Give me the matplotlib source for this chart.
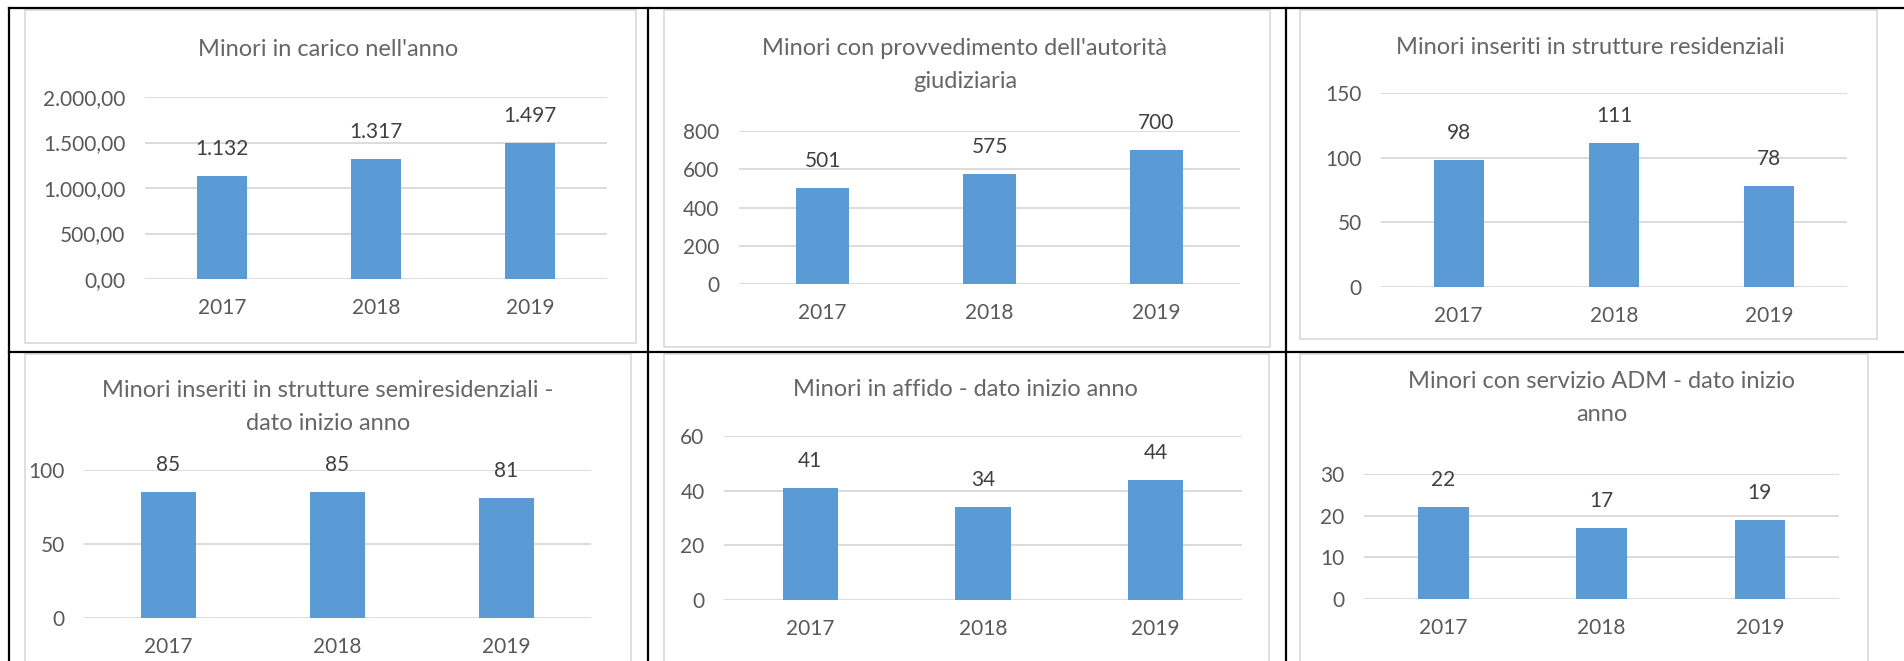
import matplotlib.pyplot as plt
from matplotlib.patches import Rectangle
from matplotlib.lines import Line2D

plt.rcParams['font.family'] = ['Lato', 'DejaVu Sans']

anni = ['2017', '2018', '2019']

carico = [1132, 1317, 1497]
provvedimento = [501, 575, 700]
residenziali = [98, 111, 78]
semiresidenziali = [85, 85, 81]
affido = [41, 34, 44]
adm = [22, 17, 19]

titoli = ["Minori in carico nell'anno",
          "Minori con provvedimento dell'autorità\ngiudiziaria",
          "Minori inseriti in strutture residenziali",
          "Minori inseriti in strutture semiresidenziali -\ndato inizio anno",
          "Minori in affido - dato inizio anno",
          "Minori con servizio ADM - dato inizio\nanno"]

yticks = [[0, 500, 1000, 1500, 2000],
          [0, 200, 400, 600, 800],
          [0, 50, 100, 150],
          [0, 50, 100],
          [0, 20, 40, 60],
          [0, 10, 20, 30]]

serie = [carico, provvedimento, residenziali, semiresidenziali, affido, adm]

W, H = 1904, 661
BLU = '#5B9BD5'
GRIGIO = '#595959'

# pixel layout: plot area (left, top, right, zero line), title centre, chart frame
aree = [(145, 97, 607, 279), (739, 131, 1240, 284), (1381, 93, 1847, 287),
        (84, 470, 591, 618), (724, 436, 1242, 600), (1364, 474, 1839, 599)]
centri_titolo = [(328, 49), (965, 65), (1590, 47), (328, 407), (965, 390), (1602, 398)]
cornici = [(25, 10, 636, 343), (664, 10, 1270, 347), (1300, 10, 1877, 339),
           (25, 354, 631, 700), (664, 354, 1269, 700), (1300, 354, 1868, 700)]


def it_num(v, dec=0):
    s = f"{v:,.{dec}f}"
    return s.replace(',', '#').replace('.', ',').replace('#', '.')


fig = plt.figure(figsize=(W / 100, H / 100), dpi=100)

for k in range(6):
    l, t, r, b = aree[k]
    ax = fig.add_axes([l / W, 1 - b / H, (r - l) / W, (b - t) / H])
    ax.patch.set_alpha(0)
    vals = serie[k]
    ax.bar(range(3), vals, width=0.32, color=BLU, zorder=2)
    ax.set_xlim(-0.5, 2.5)
    ax.set_ylim(0, yticks[k][-1])
    ax.set_yticks(yticks[k])
    if k == 0:
        ax.set_yticklabels([it_num(v, 2) for v in yticks[k]])
    ax.set_xticks(range(3), anni)
    ax.yaxis.grid(True, color='#D9D9D9', lw=1.3, zorder=0)
    ax.set_axisbelow(True)
    for s in ax.spines.values():
        s.set_visible(False)
    ax.tick_params(length=0, labelsize=15, colors=GRIGIO, pad=14)
    for i, v in enumerate(vals):
        lab = it_num(v) if k == 0 else str(v)
        ax.annotate(lab, (i, v), xytext=(0, 27), textcoords='offset pixels',
                    ha='center', va='center', fontsize=15, color='#404040')

    cx, cy = centri_titolo[k]
    fig.text(cx / W, 1 - cy / H, titoli[k], ha='center', va='center',
             fontsize=17, color='#666666', linespacing=1.65)

    x0, y0, x1, y1 = cornici[k]
    fig.add_artist(Rectangle((x0 / W, 1 - y1 / H), (x1 - x0) / W, (y1 - y0) / H,
                             transform=fig.transFigure, fill=False,
                             edgecolor='#D9D9D9', lw=1.2))

# table borders
linee = [((9, 8), (1904, 8)), ((9, 352), (1904, 352)),
         ((9, 8), (9, 661)), ((648, 8), (648, 661)), ((1286, 8), (1286, 661))]
for (xa, ya), (xb, yb) in linee:
    fig.add_artist(Line2D([xa / W, xb / W], [1 - ya / H, 1 - yb / H],
                          transform=fig.transFigure, color='black', lw=1.6))

fig.savefig('out.png', dpi=100)
